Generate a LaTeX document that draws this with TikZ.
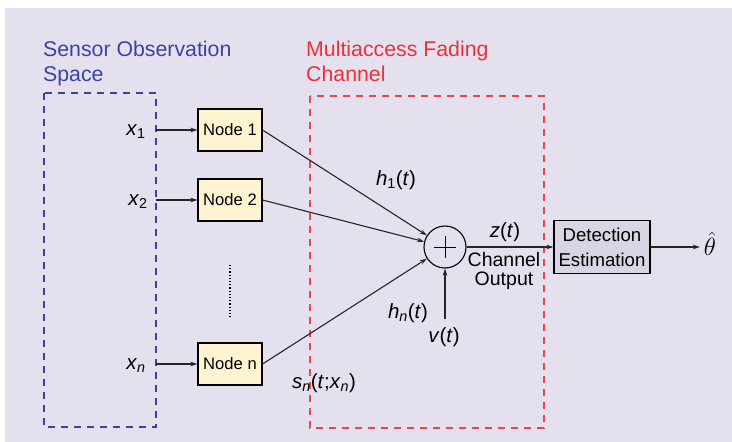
\documentclass[tikz,border=0pt]{standalone}
\usepackage{fontspec}
\setmainfont{Liberation Sans}
\usepackage{amsmath}
\usetikzlibrary{arrows.meta}

\definecolor{bgcol}{HTML}{E4E0EE}
\definecolor{obsblue}{HTML}{3C42A0}
\definecolor{chred}{HTML}{E8323C}
\definecolor{nodefill}{HTML}{FFF4D2}
\definecolor{detfill}{HTML}{D9D5E4}

\begin{document}
\begin{tikzpicture}[x=1pt,y=-1pt,>={Stealth[length=7pt,width=4.5pt]},
    flow/.style={->,draw=black!85,line width=1.1pt},
    sensor/.style={draw,line width=1.1pt,fill=nodefill,minimum width=64pt,minimum height=42pt,inner sep=0pt,font=\fontsize{16.6}{19}\selectfont},
    lbl/.style={inner sep=0pt,font=\fontsize{20.5}{24}\selectfont},
    title/.style={inner sep=0pt,align=left,anchor=north west,font=\fontsize{21.3}{24.5}\selectfont},
    region/.style={line width=1.2pt,dash pattern=on 7pt off 6pt}]
    \useasboundingbox (0,0) rectangle (732,442);
    \fill[bgcol] (5,8) rectangle (732,442);

    % Regions
    \node[title,text=obsblue] (obs) at (43,41) {Sensor Observation\\Space};
    \node[title,text=chred] (mac) at (306,41) {Multiaccess Fading\\Channel};
    \draw[region,obsblue] (44,93) rectangle (156,427);
    \draw[region,chred!90!white] (310,96) rectangle (544,428);

    % Sensor nodes
    \node[sensor] (n1) at (230,130) {Node 1};
    \node[sensor] (n2) at (230,200) {Node 2};
    \node[sensor] (nn) at (230,364) {Node n};
    \draw[dotted,line width=1.2pt] (230,265) -- (230,318);

    % Observations
    \coordinate (in1) at (156,130);
    \coordinate (in2) at (156,200);
    \coordinate (inn) at (156,364);
    \node[lbl] (x1) at (136,132) {\textit{x}\textsubscript{1}};
    \node[lbl] (x2) at (138,202) {\textit{x}\textsubscript{2}};
    \node[lbl] (xn) at (136,366) {\textit{x}\textsubscript{\textit{n}}};

    % Combiner and detector
    \node[draw,circle,minimum size=42pt,inner sep=0pt,line width=1.1pt] (sum) at (445,247) {};
    \draw[line width=1pt] ([xshift=-11pt]sum.center) -- ([xshift=11pt]sum.center);
    \draw[line width=1pt] ([yshift=-11pt]sum.center) -- ([yshift=11pt]sum.center);
    \node[draw,fill=detfill,line width=1.1pt,minimum width=96pt,minimum height=53pt,inner sep=0pt,align=center,font=\fontsize{18.6}{25}\selectfont] (det) at (602,247) {Detection\\Estimation};
    \coordinate (vin) at (445,319);
    \coordinate (out) at (700,247);

    % Labels
    \node[lbl] (h1) at (396,180) {\textit{h}\textsubscript{1}(\textit{t})};
    \node[lbl] (hn) at (408,313) {\textit{h}\textsubscript{\textit{n}}(\textit{t})};
    \node[lbl] (sn) at (324,383) {\textit{s}\textsubscript{\textit{n}}(\textit{t};\textit{x}\textsubscript{\textit{n}})};
    \node[lbl] (v) at (444,337) {\textit{v}(\textit{t})};
    \node[lbl] (z) at (505,232) {\textit{z}(\textit{t})};
    \node[lbl,align=center,font=\fontsize{19.5}{18.5}\selectfont] (co) at (504,271) {Channel\\Output};
    \node[inner sep=0pt,font=\fontsize{24}{26}\selectfont] (theta) at (710,244) {$\hat{\theta}$};

    % Arrows
    \draw[flow] (in1) -- (n1);
    \draw[flow] (in2) -- (n2);
    \draw[flow] (inn) -- (nn);

    \draw[flow] (n1.east) -- (sum);
    \draw[flow] (n2.east) -- (sum);
    \draw[flow] (nn.east) -- (sum);
    \draw[flow] (vin) -- (sum);

    \draw[flow] (sum) -- (det);
    \draw[flow] (det) -- (out);
\end{tikzpicture}
\end{document}
